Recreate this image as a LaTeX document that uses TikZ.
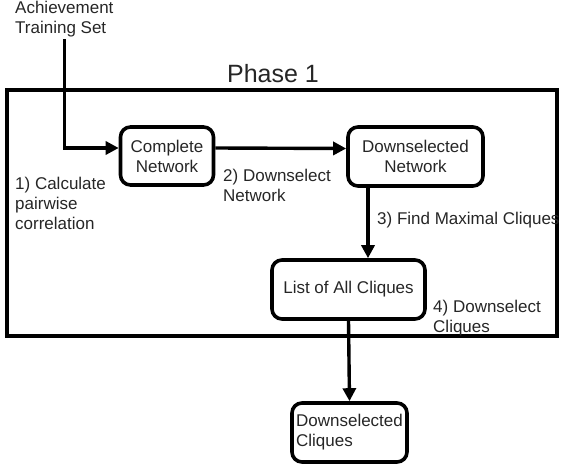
\documentclass[tikz,border=0pt]{standalone}
\usepackage{fontspec}
\setmainfont{Liberation Sans}
\usetikzlibrary{arrows.meta}
\begin{document}
\begin{tikzpicture}[x=1pt, y=-1pt,
    every node/.style={font=\fontsize{17}{20}\selectfont, text=black!85},
    box/.style={draw, line width=3.6pt, rounded corners=10pt, align=center, text=black!85},
    lbl/.style={anchor=west, align=left, inner sep=0pt},
    flow/.style={line width=3.4pt, -{Triangle[length=13pt, width=13pt]}}]
    \useasboundingbox (0, 0) rectangle (564, 468);

    % 外框
    \node[draw, line width=3.6pt, minimum width=550pt, minimum height=246pt] (phase) at (282, 213) {};
    \node[font=\fontsize{25}{28}\selectfont] (title) at (273, 74) {Phase 1};

    % 方框
    \node[box, minimum width=93pt, minimum height=58pt] (complete) at (167, 156) {Complete\\Network};
    \node[box, minimum width=135pt, minimum height=59pt] (downnet) at (415.5, 156.5) {Downselected\\Network};
    \node[box, minimum width=153pt, minimum height=59pt] (cliques) at (348.5, 289.5) {List of All Cliques};
    \node[box, minimum width=115pt, minimum height=59pt, align=left] (downcliques) at (349.5, 432.5) {Downselected\\Cliques};

    % 文字
    \node[lbl, inner sep=2pt] (train) at (13, 19) {Achievement\\Training Set};
    \node[lbl] (step1) at (15, 203) {1) Calculate\\pairwise\\correlation};
    \node[lbl] (step2) at (223, 185) {2) Downselect\\Network};
    \node[lbl] (step3) at (377, 220) {3) Find Maximal Cliques};
    \node[lbl] (step4) at (433, 318.5) {4) Downselect\\Cliques};

    % 箭头
    \draw[flow] (train.south) |- ([yshift=8pt]complete.west);
    \draw[flow] ([yshift=8pt]complete.east) -- ([yshift=8pt]downnet.west);
    \draw[flow] ([xshift=-47.5pt]downnet.south) -- ([xshift=19.5pt]cliques.north);
    \draw[flow] (cliques.south) -- (downcliques.north);
\end{tikzpicture}
\end{document}
